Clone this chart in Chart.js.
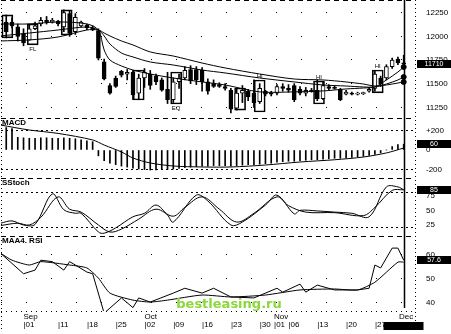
<!DOCTYPE html>
<html><head><meta charset="utf-8">
<script src="https://cdn.jsdelivr.net/npm/chart.js@4/dist/chart.umd.min.js"></script>
<style>html,body{margin:0;padding:0;background:#fff;}canvas{display:block;}</style>
</head><body>
<canvas id="c" width="451" height="334"></canvas>
<script>
// ---- trading-day index of each candle ----
const candleDays = [-1,0,1,2,3,4,5,6,7,8,9,10,11,12,13,14,15,16,17,18,19,20,21,22,23,24,25,26,27,28,29,30,31,32,33,34,35,36,37,38,39,40,41,42,43,44,45,46,47,48,49,50,51,52,53,54,55,56,57,58,59,60,61,62,63,64,65,66,67,68];
const opens  = [12150,12150,12100,12030,11960,12080,12130,12170,12150,12160,12100,12240,12050,12110,12120,12090,12060,11730,11480,11560,11630,11600,11620,11400,11560,11600,11580,11540,11440,11330,11520,11560,11650,11650,11640,11520,11500,11490,11470,11430,11240,11400,11420,11400,11310,11420,11400,11400,11470,11450,11480,11440,11400,11430,11430,11340,11470,11460,11440,11390,11400,11390,11395,11420,11450,11560,11560,11680,11760,11720];
const highs  = [12226,12195,12130,12080,12130,12150,12200,12210,12190,12170,12280,12270,12240,12160,12130,12110,12080,11760,11500,11580,11640,11650,11640,11600,11660,11640,11600,11560,11620,11560,11600,11680,11690,11680,11670,11550,11540,11510,11500,11450,11450,11480,11440,11540,11500,11430,11420,11490,11500,11490,11500,11470,11460,11450,11540,11520,11490,11480,11450,11430,11410,11410,11410,11460,11640,11580,11700,11770,11780,11800];
const lows   = [11983,12090,11950,11900,11960,12070,12110,12130,12140,12110,12050,12000,12020,12100,12070,12060,11750,11540,11390,11460,11570,11540,11330,11330,11460,11440,11490,11420,11290,11300,11450,11540,11500,11490,11420,11390,11460,11460,11430,11190,11220,11300,11320,11250,11290,11370,11370,11380,11420,11410,11310,11380,11370,11410,11320,11330,11430,11440,11320,11380,11380,11380,11385,11410,11420,11470,11540,11660,11700,11660];
const closes = [12050,12110,12000,11930,12080,12110,12170,12150,12170,12130,12250,12030,12200,12150,12090,12070,11770,11550,11400,11470,11590,11620,11380,11560,11620,11480,11520,11430,11330,11520,11560,11640,11530,11540,11520,11420,11470,11470,11450,11230,11400,11430,11360,11300,11450,11390,11390,11470,11450,11430,11330,11400,11430,11420,11340,11480,11450,11450,11330,11410,11390,11400,11405,11440,11600,11500,11680,11750,11720,11710];

// ---- pattern boxes on the price panel ----
const boxDays = [-0.8, 3.6, 9.5, 22, 28.5, 39.6, 43, 53.3, 63.5];
const boxLow  = [11983, 11909, 12014, 11327, 11285, 11221, 11200, 11285, 11402];
const boxHigh = [12226, 12131, 12279, 11644, 11623, 11454, 11539, 11528, 11644];
const boxTags = ['', 'FL', '', '', 'EQ', '', 'HI', 'HI', 'HI'];

// ---- moving averages ----
const maDays = [-2,3,8,13,15,16,17,19,21,24,28,33,37,43,49,54,58,61,63,65,67,68];
const maFast = [12131,12131,12152,12131,12067,11856,11750,11687,11644,11602,11560,11518,11486,11413,11413,11423,11444,11454,11465,11539,11623,11676];
const maMid  = [12004,12035,12067,12099,12067,12004,11919,11824,11782,11729,11697,11644,11613,11560,11518,11486,11475,11465,11465,11496,11539,11570];
const maSlow = [11951,11962,11993,12067,12067,12035,12004,11951,11909,11835,11792,11718,11666,11602,11549,11539,11518,11496,11475,11486,11507,11518];

// ---- MACD ----
const macdHist = [230,220,130,125,120,120,125,125,120,120,125,120,115,105,95,85,-60,-110,-135,-150,-165,-175,-185,-195,-200,-205,-205,-200,-200,-195,-190,-180,-175,-170,-165,-165,-160,-160,-160,-165,-160,-155,-150,-150,-145,-140,-135,-125,-120,-115,-115,-110,-105,-100,-100,-95,-90,-85,-85,-80,-75,-70,-65,-55,-45,-30,0,35,55,60];
const signalDays = [-2,3,8,14,16,19,21,24,28,33,38,44,50,56,61,65,68];
const signalVals = [256,205,170,103,51,-20,-82,-133,-164,-174,-174,-154,-123,-100,-72,-30,20];

// ---- Stochastic ----
const stochKDays = [-2,0,2,4,7,9,11,12,15,16,18,21,23,25,27,28,32,34,38,40,44,46,49,50,53,56,59,62,65,67,68];
const stochK     = [28,32,25,26,78,51,45,45,13,11,20,39,45,59,42,30,76,66,25,30,59,76,44,50,49,47,45,39,90,90,85];
const stochDDays = [-2,1,3,5,8,10,12,15,17,19,22,25,28,30,33,36,39,42,46,48,51,56,61,63,66,68];
const stochD     = [24,28,25,38,73,52,47,25,13,18,35,52,40,55,73,52,30,45,73,58,47,46,41,55,84,85];

// ---- RSI ----
const rsi1Days = [-2,2,4,5,7,9,10,11,13,14,16,19,21,22,24,28,30,33,35,38,42,46,47,50,51,53,56,60,62,63,64,66,67,68];
const rsi1     = [60.5,52,53.5,57.6,57,53.5,57,55.6,52.7,52,35.7,42,38,42,40.3,44,46,44,46,42.4,42,46,44.4,47.7,44.4,47.3,45.3,45.3,46,55.6,54.4,62.6,62.6,57.6];
const rsi2Days = [-2,0,3,5,10,13,15,17,21,24,27,33,38,44,50,56,60,63,67,68];
const rsi2     = [60.5,57.6,55.6,57,55.6,54.4,50.2,44,41.1,40.3,41.1,43.2,42.4,43.2,45.3,45.7,45.3,48.5,56.8,56.8];

// ---- axis ticks ----
const xTickAt     = [2, 8, 13, 18, 23, 28, 33, 38, 43, 45.5, 48, 53, 58, 63, 67.2];
const xTickMonths = ['Sep','','','','Oct','','','','','Nov','','','','','Dec'];
const xTickDays   = ['01','11','18','25','02','09','16','23','30','01','06','13','20','27',''];
const priceTicks = [12250, 12000, 11750, 11500, 11250];
const macdTicks  = [200, 0, -200];
const stochTicks = [80, 75, 50, 25, 20];
const rsiTicks   = [60, 50, 40];
const panelTitles = {yMacd: 'MACD', yStoch: 'SStoch', yRsi: 'MAA4. RSI'};
const watermark = 'bestleasing.ru';

const pts = (xs, ys) => xs.map((x, i) => ({x: x, y: ys[i]}));
const last = candleDays.length - 1;
const lastDay = candleDays[last];

const FONT = "'Liberation Sans', Arial, sans-serif";

function yAxis(weight, min, max, vals, fmt, gridColor, dash) {
  return {
    type: 'linear', position: 'right', stack: 'panels', stackWeight: weight,
    min: min, max: max, offset: false,
    afterBuildTicks: s => { s.ticks = vals.map(v => ({value: v})); },
    afterFit: s => { s.width = 37; s.paddingTop = 0; s.paddingBottom = 0; },
    ticks: {autoSkip: false, font: {family: FONT, size: 8}, color: '#000', padding: 12, crossAlign: 'near', callback: fmt},
    grid: {color: gridColor, lineWidth: 1, drawTicks: false, tickLength: 0},
    border: {display: false, dash: dash}
  };
}

const decor = {
  id: 'decor',
  beforeDatasetsDraw(chart) {
    const c = chart.ctx, a = chart.chartArea, s = chart.scales;
    c.save();
    c.strokeStyle = '#000'; c.lineWidth = 1;
    c.setLineDash([5, 4]);
    [0.5, Math.round(s.yMacd.top) + 0.5, Math.round(s.yStoch.top) + 0.5, Math.round(s.yRsi.top) + 0.5].forEach(y => {
      c.beginPath(); c.moveTo(a.left, y); c.lineTo(a.right, y); c.stroke();
    });
    c.setLineDash([1, 3]);
    [a.left + 0.5, a.right + 1.5].forEach(x => {
      c.beginPath(); c.moveTo(x, 0); c.lineTo(x, a.bottom + 20); c.stroke();
    });
    c.setLineDash([1, 4]);
    c.beginPath(); c.moveTo(a.left, a.bottom + 0.5); c.lineTo(a.right, a.bottom + 0.5); c.stroke();
    c.restore();
  },
  afterDatasetsDraw(chart) {
    const c = chart.ctx, a = chart.chartArea, s = chart.scales;
    c.save();
    const xl = Math.round(s.x.getPixelForValue(lastDay)) + 0.5;
    c.strokeStyle = '#000'; c.lineWidth = 1.5;
    c.beginPath(); c.moveTo(xl, 0); c.lineTo(xl, a.bottom - 3); c.stroke();
    c.fillStyle = '#000'; c.font = 'bold 8px ' + FONT; c.textBaseline = 'middle'; c.textAlign = 'left';
    Object.keys(panelTitles).forEach(k => c.fillText(panelTitles[k], a.left + 1, s[k].top + 5));
    c.font = '6px ' + FONT; c.textAlign = 'center';
    boxDays.forEach((d, i) => {
      if (!boxTags[i]) return;
      const x = s.x.getPixelForValue(d);
      const y = boxTags[i] === 'HI' ? s.yPrice.getPixelForValue(boxHigh[i]) - 4 : s.yPrice.getPixelForValue(boxLow[i]) + 4;
      c.fillText(boxTags[i], x, y);
    });
    const boxes = [
      ['yPrice', closes[last], String(closes[last])],
      ['yMacd', macdHist[last], String(macdHist[last])],
      ['yStoch', stochK[stochK.length - 1], String(stochK[stochK.length - 1])],
      ['yRsi', rsi1[rsi1.length - 1], String(rsi1[rsi1.length - 1])]
    ];
    c.font = '7px ' + FONT;
    boxes.forEach(b => {
      const y = Math.round(s[b[0]].getPixelForValue(b[1]));
      c.fillStyle = '#000'; c.fillRect(a.right + 3, y - 4, chart.width - a.right - 3, 8);
      c.fillStyle = '#fff'; c.fillText(b[2], (a.right + 3 + chart.width) / 2, y + 0.5);
    });
    c.fillStyle = '#000'; c.fillRect(xl - 21, a.bottom + 11, 40, 8);
    c.restore();
  },
  afterDraw(chart) {
    const c = chart.ctx;
    c.save();
    c.fillStyle = '#8ad83a'; c.font = 'bold 13px "DejaVu Sans", sans-serif';
    c.textAlign = 'center'; c.textBaseline = 'alphabetic';
    c.fillText(watermark, 229, 308);
    c.restore();
  }
};

const line = (data, yAxisID, extra) => Object.assign({
  type: 'line', data: data, yAxisID: yAxisID, borderColor: '#000', borderWidth: 1,
  pointRadius: 0, tension: 0.3, fill: false
}, extra || {});

new Chart(document.getElementById('c'), {
  type: 'bar',
  data: {
    datasets: [
      {type: 'bar', data: boxDays.map((d, i) => ({x: d, y: [boxLow[i], boxHigh[i]]})), yAxisID: 'yPrice',
       barThickness: 11, grouped: false, backgroundColor: 'rgba(0,0,0,0)', borderColor: '#000', borderWidth: 1, borderSkipped: false, order: 6},
      {type: 'bar', data: candleDays.map((d, i) => ({x: d, y: [lows[i], highs[i]]})), yAxisID: 'yPrice',
       barThickness: 1, grouped: false, backgroundColor: '#000', borderWidth: 0, order: 5},
      {type: 'bar', data: candleDays.map((d, i) => ({x: d, y: [opens[i], closes[i]]})), yAxisID: 'yPrice',
       barThickness: 4, grouped: false, backgroundColor: candleDays.map((d, i) => closes[i] < opens[i] ? '#000' : '#fff'),
       borderColor: '#000', borderWidth: 1, borderSkipped: false, order: 4},
      line(pts(maDays, maFast), 'yPrice', {pointRadius: c => c.dataIndex === maDays.length - 1 ? 2.5 : 0, pointBackgroundColor: '#000', order: 1}),
      line(pts(maDays, maMid), 'yPrice', {pointRadius: c => c.dataIndex === maDays.length - 1 ? 2.5 : 0, pointBackgroundColor: '#000', order: 1}),
      line(pts(maDays, maSlow), 'yPrice', {pointRadius: c => c.dataIndex === maDays.length - 1 ? 2.5 : 0, pointBackgroundColor: '#000', order: 1}),
      {type: 'bar', data: pts(candleDays, macdHist), yAxisID: 'yMacd', barThickness: 1, grouped: false, backgroundColor: '#000', borderWidth: 0, order: 3},
      line(pts(signalDays, signalVals), 'yMacd', {order: 1}),
      line(pts(stochKDays, stochK), 'yStoch', {tension: 0.35, order: 1}),
      line(pts(stochDDays, stochD), 'yStoch', {tension: 0.35, order: 1}),
      line(pts(rsi1Days, rsi1), 'yRsi', {tension: 0, order: 1}),
      line(pts(rsi2Days, rsi2), 'yRsi', {tension: 0.2, order: 1})
    ]
  },
  options: {
    responsive: false, animation: false, devicePixelRatio: 1,
    layout: {autoPadding: false, padding: {left: 1, right: 0, top: 0, bottom: 1}},
    plugins: {legend: {display: false}, tooltip: {enabled: false}},
    events: [],
    scales: {
      x: {
        type: 'linear', position: 'bottom', min: -1.91, max: 69.79, offset: false,
        afterBuildTicks: s => { s.ticks = xTickAt.map(v => ({value: v})); },
        afterFit: s => { s.height = 22; s.paddingLeft = 0; s.paddingRight = 0; },
        grid: {display: false, drawTicks: false, tickLength: 0}, border: {display: false},
        ticks: {autoSkip: false, maxRotation: 0, minRotation: 0, align: 'start', padding: 2, color: '#000',
                font: {family: FONT, size: 8, lineHeight: 1},
                callback: (v, i) => [xTickMonths[i], xTickDays[i] ? '|' + xTickDays[i] : '']}
      },
      yPrice: yAxis(118, 11137, 12384, priceTicks, v => String(v), '#000', [1, 24]),
      yMacd: yAxis(60, -287, 328, macdTicks, v => v > 0 ? '+' + v : String(v), c => c.tick && c.tick.value === 0 ? 'rgba(0,0,0,0)' : '#000', [2, 3]),
      yStoch: yAxis(58, 6.2, 105.2, stochTicks, v => (v === 80 || v === 20) ? '' : String(v), c => c.tick && (c.tick.value === 80 || c.tick.value === 20) ? '#000' : 'rgba(0,0,0,0)', [2, 3]),
      yRsi: yAxis(75, 36.6, 67.6, rsiTicks, v => String(v), '#000', [1, 24])
    }
  },
  plugins: [decor]
});
</script>
</body></html>
